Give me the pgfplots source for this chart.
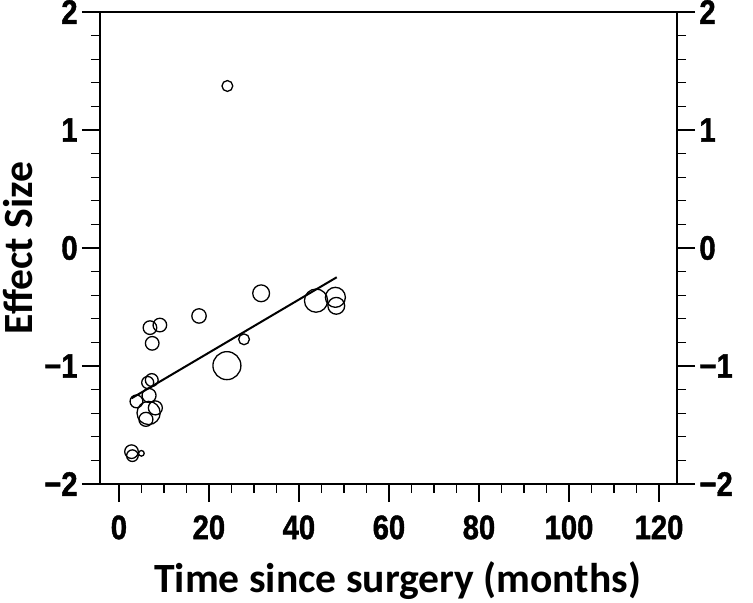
\documentclass[border=0pt]{standalone}
\usepackage{fontspec}
\usepackage{pgfplots}
\pgfplotsset{compat=1.18}
\newfontfamily\tickfont[FakeStretch=0.86, FakeBold=1.2]{Liberation Sans Bold}
\newfontfamily\labfont{Carlito}
\newcommand\ticksize{\tickfont\fontsize{17}{17}\selectfont}
\newcommand\labsize{\labfont\bfseries\fontsize{20.8}{20.8}\selectfont}
\pgfplotsset{
    frameaxis/.style={
        scale only axis,
        width=288.5pt, height=236pt,
        xmin=-4.2, xmax=124,
        ymin=-2, ymax=2,
        axis line style={line width=1pt},
        tick style={line width=0.65pt, black},
        tick align=outside,
        major tick length=9pt,
        minor tick length=4.5pt,
        ytick={-2,-1,0,1,2},
        minor y tick num=4,
        yticklabels={−2,−1,0,1,2},
        yticklabel style={font=\ticksize, inner sep=2pt},
    },
}
\begin{document}
\begin{tikzpicture}
\begin{axis}[
    frameaxis,
    xtick={0,20,...,120},
    minor x tick num=3,
    xtick pos=bottom,
    ytick pos=left,
    /pgf/number format/assume math mode=true,
    xticklabel style={font=\ticksize, inner sep=2pt, yshift=-4.5pt},
    xlabel={Time since surgery (months)},
    ylabel={Effect Size},
    xlabel style={font=\labsize, at={(axis description cs:0.516,-0.2309)}, anchor=base},
    ylabel style={font=\labsize, at={(axis description cs:-0.1178,0.5)}, anchor=base},
    clip=false,
]
% studies: time (months), effect size, marker radius (pt)
\addplot[
    scatter, only marks, mark=o,
    line width=0.65pt,
    scatter/use mapped color={draw=black, fill=none},
    visualization depends on={\thisrow{r} \as \rad},
    scatter/@pre marker code/.append style={/tikz/mark size=\rad pt},
] table[x=t, y=es] {
t     es      r
31.6  -0.384  4.2
6.9   -0.675  3.4
9.1   -0.653  3.4
7.4   -0.808  3.4
17.8  -0.576  3.6
27.8  -0.774  2.7
24.0  -0.997  7.0
43.8  -0.446  5.8
48.1  -0.418  5.0
48.3  -0.490  4.2
7.3   -1.119  3.2
6.4   -1.140  3.0
6.7   -1.250  3.5
3.9   -1.300  3.2
8.1   -1.355  3.5
6.6   -1.398  5.8
6.0   -1.452  3.5
2.8   -1.726  3.4
3.0   -1.760  2.9
5.0   -1.740  1.4
24.1   1.373  2.7
};
% meta-regression line
\addplot[black, line width=1pt] coordinates {(2.8,-1.274) (48.4,-0.248)};
\end{axis}
\begin{axis}[
    frameaxis,
    axis x line=none,
    axis y line*=right,
    ytick pos=right,
    yticklabel pos=right,
]
\end{axis}
\pgfresetboundingbox
\path[use as bounding box] (-50pt,-59.5pt) rectangle (326.5pt,242pt);
\end{tikzpicture}
\end{document}
